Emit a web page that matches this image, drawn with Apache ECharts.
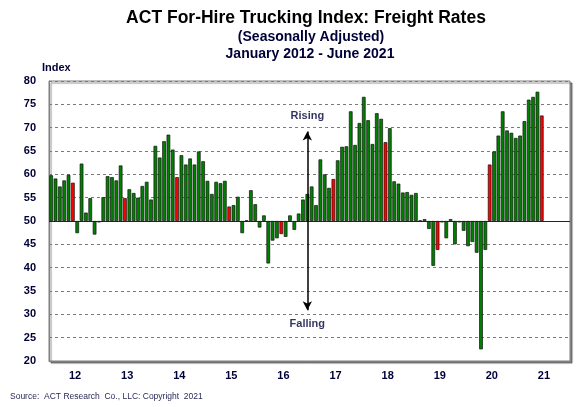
<!DOCTYPE html>
<html><head><meta charset="utf-8">
<script src="https://cdn.jsdelivr.net/npm/echarts@6/dist/echarts.min.js"></script>
<style>html,body{margin:0;padding:0;background:#fff}#c{width:587px;height:407px}</style>
</head><body><div id="c"></div>
<script>
// ---- data ----
const yearLabels = ['12','13','14','15','16','17','18','19','20','21'];
const monthNames = ['Jan','Feb','Mar','Apr','May','Jun','Jul','Aug','Sep','Oct','Nov','Dec'];
const v2012 = [59.8, 59.1, 57.4, 58.7, 59.9, 58.2, 47.4, 62.3, 51.8, 54.9, 47.1, 49.7];
const v2013 = [55.1, 59.6, 59.4, 58.7, 61.9, 54.9, 56.8, 56.0, 55.0, 57.5, 58.4, 54.6];
const v2014 = [66.1, 63.6, 67.1, 68.5, 65.3, 59.4, 64.1, 62.1, 63.4, 62.1, 64.9, 62.8];
const v2015 = [58.6, 55.8, 58.4, 58.1, 58.6, 53.1, 53.4, 55.2, 47.4, 50.1, 56.6, 53.6];
const v2016 = [48.6, 51.2, 40.9, 45.8, 46.3, 47.2, 46.6, 51.2, 48.1, 51.6, 54.6, 55.8];
const v2017 = [57.4, 53.4, 63.2, 60.0, 57.1, 59.0, 63.0, 65.9, 66.0, 73.5, 66.3, 71.0];
const v2018 = [76.6, 71.6, 66.5, 73.1, 71.9, 66.9, 69.9, 58.5, 58.0, 56.1, 56.2, 55.6];
const v2019 = [56.0, 50.1, 50.4, 48.3, 40.4, 43.8, 49.7, 46.3, 50.4, 45.0, 49.7, 47.9];
const v2020 = [44.6, 45.5, 43.2, 22.5, 43.8, 62.1, 64.9, 68.3, 73.5, 69.4, 68.9, 67.8];
const v2021 = [68.3, 71.4, 76.0, 76.6, 77.7, 72.6];
const yearValues = [v2012, v2013, v2014, v2015, v2016, v2017, v2018, v2019, v2020, v2021];
const baseline = 50;
const highlightMonth = 'Jun';
const arrowTop = 69.2, arrowBottom = 30.9, arrowPos = 59.5;
const annotationText = ['Rising', 'Falling'];
const annotationValues = [72.6, 28.0];

// ---- build ----
const months = [];
yearLabels.forEach(y => monthNames.forEach(m => months.push(m + '-' + y)));
const barData = [];
yearValues.forEach((arr, yi) => arr.forEach((v, mi) => {
  barData.push({
    value: +(v - baseline).toFixed(2),
    itemStyle: { color: monthNames[mi] === highlightMonth ? '#ff0000' : '#008000' }
  });
}));

const navy = '#000038';
const chart = echarts.init(document.getElementById('c'), null, { renderer: 'canvas' });
chart.setOption({
  animation: false,
  backgroundColor: '#fff',
  textStyle: { fontFamily: 'Liberation Sans, Arial, sans-serif' },
  grid: {
    left: 49, right: 17, top: 81, bottom: 46, show: true,
    borderColor: '#7f7f7f', borderWidth: 1, backgroundColor: '#fff',
    shadowColor: 'rgba(0,0,0,0.45)', shadowOffsetX: 2, shadowOffsetY: 2, shadowBlur: 1
  },
  xAxis: [
    { type: 'category', data: months, gridIndex: 0, position: 'bottom',
      axisLine: { onZero: false, lineStyle: { color: '#7f7f7f' } }, axisTick: { show: false },
      axisLabel: { show: false }, splitLine: { show: false } },
    { type: 'category', data: yearLabels, gridIndex: 0, position: 'bottom',
      axisLine: { show: false }, axisTick: { show: false },
      axisLabel: { color: navy, fontWeight: 'bold', fontSize: 11, margin: 9 } },
    { type: 'value', min: 0, max: months.length, show: false, gridIndex: 0 }
  ],
  yAxis: {
    type: 'value', min: 20 - baseline, max: 80 - baseline, interval: 5,
    axisLine: { show: true, lineStyle: { color: '#7f7f7f' } },
    axisTick: { show: false },
    axisLabel: { color: navy, fontWeight: 'bold', fontSize: 11, margin: 13,
      formatter: v => String(v + baseline) },
    splitLine: { show: true, lineStyle: { color: '#7a7a7a', type: [3, 3], width: 1 } }
  },
  series: [
    { type: 'bar', xAxisIndex: 0, data: barData, barCategoryGap: '16%',
      itemStyle: { borderColor: '#111', borderWidth: 0.7 },
      markLine: { silent: true, symbol: 'none', label: { show: false },
        lineStyle: { color: '#222', type: 'solid', width: 1.2 },
        data: [{ yAxis: 0 }] } },
    { type: 'scatter', xAxisIndex: 2, symbolSize: 0, silent: true,
      data: annotationValues.map((v, i) => ({ value: [arrowPos, v - baseline], name: annotationText[i] })),
      label: { show: true, position: 'inside', formatter: p => p.name,
        color: navy, fontSize: 11, fontWeight: 'bold' },
      markLine: { silent: true, symbol: ['arrow', 'arrow'], symbolSize: [7, 9],
        label: { show: false },
        lineStyle: { color: '#000', type: 'solid', width: 1.5 },
        data: [[{ coord: [arrowPos, arrowTop - baseline] }, { coord: [arrowPos, arrowBottom - baseline] }]] } }
  ],
  graphic: [
    { type: 'text', x: 306, y: 9, style: { text: 'ACT For-Hire Trucking Index: Freight Rates', textAlign: 'center',
      font: 'bold 17.5px Liberation Sans, Arial', fill: '#000' } },
    { type: 'text', x: 311, y: 30, style: { text: '(Seasonally Adjusted)', textAlign: 'center',
      font: 'bold 14px Liberation Sans, Arial', fill: navy } },
    { type: 'text', x: 310, y: 47, style: { text: 'January 2012 - June 2021', textAlign: 'center',
      font: 'bold 14px Liberation Sans, Arial', fill: navy } },
    { type: 'text', x: 42, y: 62, style: { text: 'Index',
      font: 'bold 11px Liberation Sans, Arial', fill: navy } },
    { type: 'text', x: 10, y: 392, style: { text: 'Source:  ACT Research  Co., LLC: Copyright  2021',
      font: '8.5px Liberation Sans, Arial', fill: '#2a2a55' } }
  ]
});
</script></body></html>
